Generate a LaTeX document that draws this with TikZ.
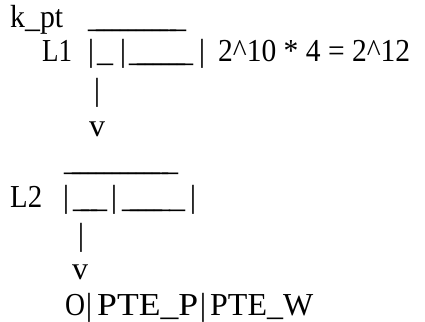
\documentclass[tikz,border=0pt]{standalone}
\usepackage{graphicx}
\usepackage{fontspec}
\setmainfont{Liberation Serif}
\newlength\uw
\newcommand\fitw[2]{\resizebox{#1}{\height}{#2}}
\newcommand\usr[1]{\settowidth\uw{\_}\hbox to #1{\leaders\hbox to 8pt{\_\hss}\hskip\dimexpr#1-\uw\relax\_}}
\begin{document}
\begin{tikzpicture}[x=1pt,y=-1pt,
  txt/.style={inner sep=0pt, font=\fontsize{32}{36}\selectfont, anchor=base west},
  bar/.style={txt, anchor=base}]
\useasboundingbox (0,0) rectangle (425,321);
% line 1
\node[txt] (kpt) at (10,28) {\fitw{53pt}{k\_pt}};
\node[txt] (top1) at (88,28) {\usr{98pt}};
% line 2
\node[txt] (L1) at (42,62) {\fitw{30pt}{L1}};
\node[bar] (p1a) at (91,62) {|};
\node[txt] (u1a) at (98,62) {\usr{15pt}};
\node[bar] (p1b) at (123,62) {|};
\node[txt] (u1b) at (129,62) {\usr{64pt}};
\node[bar] (p1c) at (202,62) {|};
\node[txt] (eq) at (218,62) {\fitw{192pt}{2\textasciicircum10 * 4 = 2\textasciicircum12}};
% arrow 1
\node[bar] (s1) at (97,100) {|};
\node[bar] (v1) at (97,136) {v};
% line 5/6
\node[txt] (top2) at (64,170) {\usr{114pt}};
\node[txt] (L2) at (10,207) {\fitw{32pt}{L2}};
\node[bar] (p2a) at (66,207) {|};
\node[txt] (u2a) at (73,207) {\usr{34pt}};
\node[bar] (p2b) at (114,207) {|};
\node[txt] (u2b) at (122,207) {\usr{63pt}};
\node[bar] (p2c) at (193,207) {|};
% arrow 2
\node[bar] (s2) at (81,245) {|};
\node[bar] (v2) at (80,279) {v};
% last line
\node[txt] (o) at (65,315) {\fitw{20pt}{O}};
\node[bar] (p3a) at (89,315) {|};
\node[txt] (pp) at (97,315) {\fitw{101pt}{PTE\_P}};
\node[bar] (p3b) at (203,315) {|};
\node[txt] (pw) at (210,315) {\fitw{103pt}{PTE\_W}};
\end{tikzpicture}
\end{document}
